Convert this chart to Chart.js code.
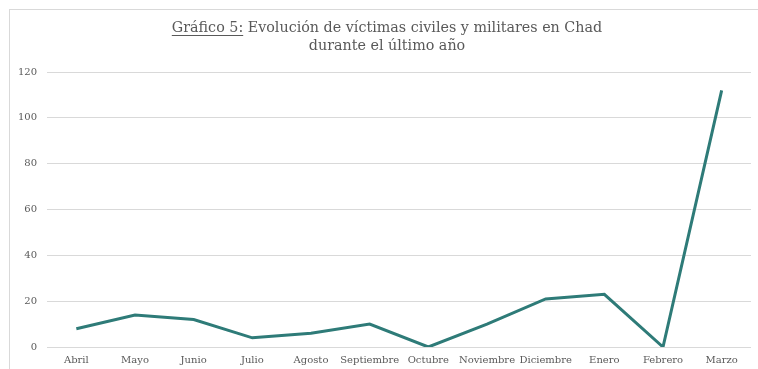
<!DOCTYPE html>
<html>
<head>
<meta charset="utf-8">
<script src="https://cdn.jsdelivr.net/npm/chart.js@4"></script>
<style>
  html, body { margin: 0; padding: 0; background: #fff; }
  #wrap { position: relative; width: 758px; height: 369px; overflow: hidden; }
  #frame { position: absolute; left: 9px; top: 9px; width: 800px; height: 400px;
           border-top: 1px solid #d9d9d9; border-left: 1px solid #d9d9d9; box-sizing: border-box; }
  canvas { position: absolute; left: 0; top: 0; }
</style>
</head>
<body>
<div id="wrap">
  <div id="frame"></div>
  <canvas id="c" width="758" height="369"></canvas>
</div>
<script>
const months = ["Abril","Mayo","Junio","Julio","Agosto","Septiembre","Octubre","Noviembre","Diciembre","Enero","Febrero","Marzo"];
const victims = [8, 14, 12, 4, 6, 10, 0, 10, 21, 23, 0, 112];
const yTicks = [0, 20, 40, 60, 80, 100, 120];
const titleLines = ["Gráfico 5: Evolución de víctimas civiles y militares en Chad", "durante el último año"];
const underlinedPart = "Gráfico 5:";

const FONT = "'DejaVu Serif', 'Liberation Serif', serif";
const TEXT = "#595959";

const underlinePlugin = {
  id: 'titleUnderline',
  afterLayout(chart) {
    const t = chart.titleBlock;
    if (t) { t.left = 23; t.right = 751; }
  },
  afterDraw(chart) {
    const t = chart.titleBlock;
    if (!t) return;
    const ctx = chart.ctx;
    const f = chart.options.plugins.title.font;
    ctx.save();
    ctx.font = f.size + "px " + FONT;
    const fullW = ctx.measureText(titleLines[0]).width;
    const partW = ctx.measureText(underlinedPart).width;
    const cx = (t.left + t.right) / 2;
    const x0 = cx - fullW / 2;
    const lineH = f.size * f.lineHeight;
    const y = t.top + chart.options.plugins.title.padding.top + lineH / 2 + f.size * 0.5;
    ctx.strokeStyle = TEXT;
    ctx.lineWidth = 1;
    ctx.beginPath();
    ctx.moveTo(x0, Math.round(y) + 0.5);
    ctx.lineTo(x0 + partW, Math.round(y) + 0.5);
    ctx.stroke();
    ctx.restore();
  }
};

new Chart(document.getElementById('c'), {
  type: 'line',
  data: {
    labels: months,
    datasets: [{
      data: victims,
      borderColor: '#2e7b78',
      borderWidth: 3,
      pointRadius: 0,
      tension: 0,
      fill: false
    }]
  },
  options: {
    responsive: false,
    animation: false,
    layout: { padding: { left: 0, right: 7, top: 0, bottom: 0 } },
    plugins: {
      legend: { display: false },
      tooltip: { enabled: false },
      title: {
        display: true,
        text: titleLines,
        color: TEXT,
        font: { family: FONT, size: 14.3, weight: 'normal', lineHeight: 1.26 },
        padding: { top: 19, bottom: 17 }
      }
    },
    scales: {
      x: {
        offset: true,
        grid: { display: false, drawTicks: false },
        border: { display: false },
        ticks: {
          color: TEXT, font: { family: FONT, size: 10 },
          autoSkip: false, maxRotation: 0, padding: 7
        },
        afterFit(s) { s.height = 22; }
      },
      y: {
        min: 0, max: 120,
        afterBuildTicks(s) { s.ticks = yTicks.map(v => ({ value: v })); },
        grid: { color: '#d9d9d9', drawTicks: false, lineWidth: 1 },
        border: { display: false },
        ticks: { color: TEXT, font: { family: FONT, size: 10 }, padding: 10 },
        afterFit(s) { s.width = 47; }
      }
    }
  },
  plugins: [underlinePlugin]
});
</script>
</body>
</html>
